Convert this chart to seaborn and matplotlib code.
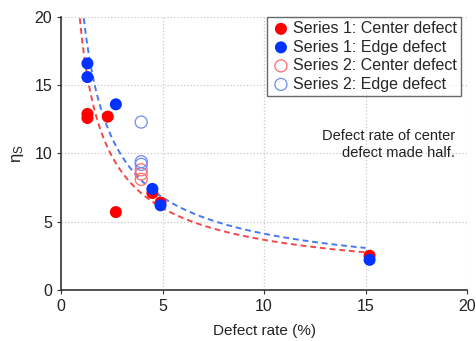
import numpy as np
import pandas as pd
import matplotlib
matplotlib.use("Agg")
import matplotlib.pyplot as plt
import seaborn as sns

# data
s1_center_x = [1.3, 1.3, 2.3, 2.7, 4.5, 4.9, 15.2]
s1_center_y = [12.9, 12.6, 12.7, 5.7, 7.1, 6.4, 2.5]
s1_edge_x = [1.3, 1.3, 2.7, 4.5, 4.9, 15.2]
s1_edge_y = [16.6, 15.6, 13.6, 7.4, 6.2, 2.2]
s2_center_x = [3.95, 3.95, 3.95]
s2_center_y = [8.8, 8.5, 8.1]
s2_edge_x = [3.95, 3.95, 3.95]
s2_edge_y = [12.3, 9.4, 9.2]

# power-law fit parameters y = a * x**b
fit_center = (18.8, -0.71)
fit_edge = (21.6, -0.72)
fit_range = (0.8, 15.0)

labels = ["Series 1: Center defect", "Series 1: Edge defect",
          "Series 2: Center defect", "Series 2: Edge defect"]

sns.set_style("ticks")
plt.rcParams['font.family'] = ['Liberation Sans', 'DejaVu Sans']
plt.rcParams['mathtext.fontset'] = 'custom'
plt.rcParams['mathtext.rm'] = 'Liberation Sans'
plt.rcParams['mathtext.it'] = 'Liberation Sans'

fig, ax = plt.subplots(figsize=(4.77, 3.41), dpi=100)
fig.subplots_adjust(left=0.128, right=0.979, top=0.950, bottom=0.150)

# fit curves
xf = np.linspace(fit_range[0], fit_range[1], 300)
curves = pd.DataFrame({
    "x": np.concatenate([xf, xf]),
    "y": np.concatenate([fit_center[0] * xf ** fit_center[1],
                         fit_edge[0] * xf ** fit_edge[1]]),
    "kind": ["center"] * len(xf) + ["edge"] * len(xf),
})
sns.lineplot(data=curves[curves.kind == "edge"], x="x", y="y", ax=ax,
             color="#4a78f5", linestyle=(0, (3, 2)), linewidth=1.4, legend=False)
sns.lineplot(data=curves[curves.kind == "center"], x="x", y="y", ax=ax,
             color="#f24a4a", linestyle=(0, (3, 2)), linewidth=1.4, legend=False)

ms = 75
sns.scatterplot(x=s2_center_x, y=s2_center_y, ax=ax, s=ms, facecolor="none",
                edgecolor="#ff6b6b", linewidth=0.9, label=labels[2], zorder=3)
sns.scatterplot(x=s2_edge_x, y=s2_edge_y, ax=ax, s=ms, facecolor="none",
                edgecolor="#6f8cf5", linewidth=0.9, label=labels[3], zorder=3)
sns.scatterplot(x=s1_center_x, y=s1_center_y, ax=ax, s=ms, color="#ff0000",
                edgecolor="none", label=labels[0], zorder=4)
sns.scatterplot(x=s1_edge_x, y=s1_edge_y, ax=ax, s=ms, color="#0033ff",
                edgecolor="none", label=labels[1], zorder=4)

ax.set_xlim(0, 20)
ax.set_ylim(0, 20)
ax.set_xticks([0, 5, 10, 15, 20])
ax.set_yticks([0, 5, 10, 15, 20])
ax.grid(True, linestyle=":", color="#c8c8c8", linewidth=0.9)
ax.set_axisbelow(True)
for s in ["top", "right"]:
    ax.spines[s].set_visible(False)
for s in ["left", "bottom"]:
    ax.spines[s].set_color("#333333")
    ax.spines[s].set_linewidth(1.2)
ax.tick_params(direction="out", length=3, width=0.8, colors="#333333",
               labelsize=11.5, labelcolor="#222222")
ax.set_xlabel("Defect rate (%)", fontsize=11, color="#222222", labelpad=7)
ax.set_ylabel(r"$\eta_S$", fontsize=12, color="#222222", labelpad=6)

ax.text(19.4, 11.8, "Defect rate of center\ndefect made half.", ha="right",
        va="top", fontsize=10.5, color="#222222", linespacing=1.3)

h, l = ax.get_legend_handles_labels()
order = [l.index(x) for x in labels]
leg = ax.legend([h[i] for i in order], [l[i] for i in order], loc="upper right",
                bbox_to_anchor=(0.985, 1.0), fontsize=11.5, frameon=True,
                fancybox=False, edgecolor="#444444", borderpad=0.25,
                handletextpad=0.15, labelspacing=0.22, handlelength=1.2,
                borderaxespad=0.0)
leg.get_frame().set_linewidth(1.0)

fig.savefig("out.png", dpi=100)
